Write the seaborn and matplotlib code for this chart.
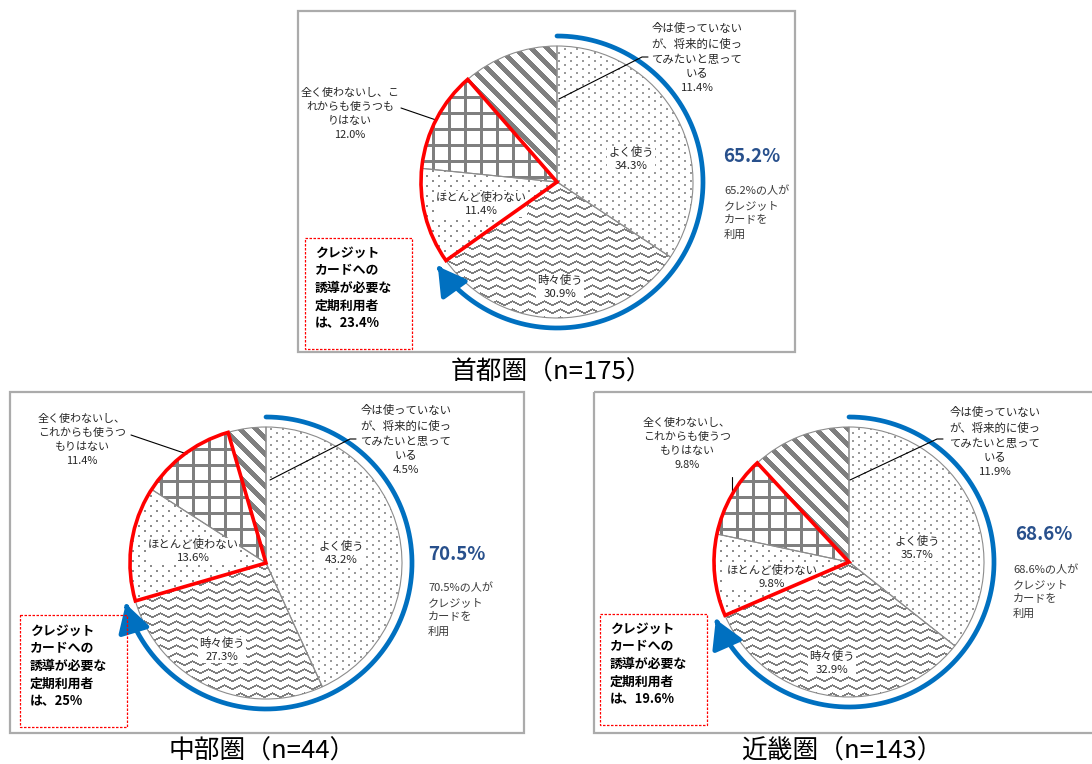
import numpy as np
import matplotlib
matplotlib.use("Agg")
import matplotlib.pyplot as plt
from matplotlib.patches import Wedge, Rectangle, FancyArrowPatch
from matplotlib.path import Path
from matplotlib.colors import to_rgba
import seaborn as sns

# ---- data -------------------------------------------------------------
regions = ["首都圏", "中部圏", "近畿圏"]
sample_sizes = [175, 44, 143]
answer_categories = [
    "よく使う",
    "時々使う",
    "ほとんど使わない",
    "全く使わないし、これからも使うつもりはない",
    "今は使っていないが、将来的に使ってみたいと思っている",
]
shuto_pct = [34.3, 30.9, 11.4, 12.0, 11.4]
chubu_pct = [43.2, 27.3, 13.6, 11.4, 4.5]
kinki_pct = [35.7, 32.9, 9.8, 9.8, 11.9]
region_values = [shuto_pct, chubu_pct, kinki_pct]

# characters per line used when wrapping the two outside labels
never_breaks = [[9, 8], [8, 8], [8, 8]]
future_breaks = [8, 8, 8]
usage_note = ["{}の人が", "クレジット", "カードを", "利用"]
target_note = ["クレジット", "カードへの", "誘導が必要な", "定期利用者", "は、{}"]

# ---- style ------------------------------------------------------------
sns.set_theme(style="white")
plt.rcParams["font.family"] = ["Noto Sans CJK JP", "DejaVu Sans"]

W, H = 1092, 764
BLUE = "#0070C0"
NAVY = "#28508C"
RED = "#FF0000"
TEXT = "#262626"
PATTERN = "#7F7F7F"
LABEL_FS = 8.2

fig = plt.figure(figsize=(W / 100, H / 100), dpi=100)
ax = fig.add_axes([0, 0, 1, 1])

# per-panel geometry (pixel units, y downwards), offsets relative to pie centre
layouts = [
    dict(box=(298, 11, 795, 352), center=(557, 182), r=136,
         inner=[(74, -23), (3, 105), (-76, 22)],
         never_pos=(-207, -68), never_leader=[(-156, -74), (-121, -62)],
         future_pos=(140, -124), future_leader=[(91, -125), (85, -125), (2, -83)],
         pct_pos=(166, -25), note_pos=(167, 31),
         target_box=(-252, 56, -145, 167), target_pos=(-242, 106),
         caption=(551, 373)),
    dict(box=(10, 392, 524, 733), center=(266, 563), r=136,
         inner=[(75, -10), (-44, 87), (-73, -12)],
         never_pos=(-184, -123), never_leader=[(-135, -128), (-79, -109)],
         future_pos=(140, -123), future_leader=[(90, -124), (84, -124), (4, -83)],
         pct_pos=(162, -9), note_pos=(162, 47),
         target_box=(-246, 52, -139, 164), target_pos=(-236, 103),
         caption=(262, 752)),
    dict(box=(594, 392, 1100, 733), center=(849, 562), r=135,
         inner=[(68, -14), (-17, 101), (-77, 15)],
         never_pos=(-162, -118), never_leader=[(-117, -85), (-117, -68)],
         future_pos=(146, -120), future_leader=[(94, -123), (88, -123), (1, -82)],
         pct_pos=(166, -27), note_pos=(164, 30),
         target_box=(-249, 52, -142, 163), target_pos=(-239, 102),
         caption=(842, 752)),
]


def texture(kind, x0, y0, w, h):
    """Pixel fill pattern for one answer category, aligned to the page grid."""
    Y, X = np.mgrid[y0:y0 + h, x0:x0 + w]
    if kind == 0:      # sparse dots
        m = ((Y % 8 < 2) & (X % 12 < 2)) | (((Y + 4) % 8 < 2) & ((X + 6) % 12 < 2))
        col = "#9A9A9A"
    elif kind == 1:    # zigzag
        tri = np.abs((X % 16) - 8) // 2
        m = ((Y + tri) % 8) < 2
        col = PATTERN
    elif kind == 2:    # confetti
        m = ((Y % 10 < 2) & (X % 12 < 2)) | (((Y + 5) % 10 < 2) & ((X + 6) % 12 < 2))
        col = "#8C8C8C"
    elif kind == 3:    # grid
        m = ((X % 16) < 3) | ((Y % 16) < 3)
        col = PATTERN
    else:              # wide diagonal stripes
        m = ((X - Y) % 16) < 7
        col = PATTERN
    img = np.ones((h, w, 4))
    img[m] = to_rgba(col)
    return img


def split_lines(text, breaks):
    out, i = [], 0
    for b in breaks:
        out.append(text[i:i + b])
        i += b
    out.append(text[i:])
    return out


for values, region, n, lay, nb, fb in zip(region_values, regions, sample_sizes,
                                          layouts, never_breaks, future_breaks):
    cx, cy = lay["center"]
    r = lay["r"]
    bx0, by0, bx1, by1 = lay["box"]
    ax.add_patch(Rectangle((bx0, by0), bx1 - bx0, by1 - by0, fill=False,
                           ec="#ABABAB", lw=1.6, zorder=0.5))

    # y axis points down, so counterclock=True from -90 runs clockwise from 12 o'clock
    wedges, _ = ax.pie(values, startangle=-90, counterclock=True, center=(cx, cy),
                       radius=r, normalize=True,
                       wedgeprops=dict(facecolor="none", edgecolor="#8C8C8C", linewidth=0.8))
    x0, y0 = int(cx - r - 3), int(cy - r - 3)
    size = int(2 * r + 6)
    for k, wdg in enumerate(wedges):
        wdg.set_zorder(2)
        im = ax.imshow(texture(k, x0, y0, size, size), extent=(x0, x0 + size, y0 + size, y0),
                       origin="upper", interpolation="nearest", zorder=1)
        im.set_clip_path(wdg)

    # outline around the two "not using" slices
    ax.add_patch(Wedge((cx, cy), r, wedges[2].theta1, wedges[3].theta2, fill=False,
                       ec=RED, lw=2.6, zorder=5, joinstyle="miter"))

    # arrow arc over the two "using" slices
    R = r + 10
    th = np.radians(np.linspace(wedges[0].theta1, wedges[1].theta2, 240))
    arc = Path(np.column_stack([cx + R * np.cos(th), cy + R * np.sin(th)]))
    ax.add_patch(FancyArrowPatch(path=arc, arrowstyle="-|>,head_length=1.3,head_width=0.75",
                                 mutation_scale=13, color=BLUE, lw=3.4, zorder=3))

    # inner labels
    for k in range(3):
        dx, dy = lay["inner"][k]
        ax.text(cx + dx, cy + dy, f"{answer_categories[k]}\n{values[k]:.1f}%",
                ha="center", va="center", fontsize=LABEL_FS, color=TEXT, linespacing=1.45,
                zorder=4, bbox=dict(fc="white", ec="none", pad=0.6))

    # outside labels with leader lines
    never_txt = "\n".join(split_lines(answer_categories[3], nb) + [f"{values[3]:.1f}%"])
    ax.text(cx + lay["never_pos"][0], cy + lay["never_pos"][1], never_txt, ha="center",
            va="center", fontsize=LABEL_FS - 0.3, color=TEXT, linespacing=1.5, zorder=4)
    lx, ly = zip(*lay["never_leader"])
    ax.plot(cx + np.array(lx), cy + np.array(ly), color="black", lw=0.8, zorder=4)

    future_lines = split_lines(answer_categories[4], [fb] * 3)
    future_txt = "\n".join(future_lines + [f"{values[4]:.1f}%"])
    ax.text(cx + lay["future_pos"][0], cy + lay["future_pos"][1], future_txt, ha="center",
            va="center", fontsize=LABEL_FS, color=TEXT, linespacing=1.5, zorder=4)
    lx, ly = zip(*lay["future_leader"])
    ax.plot(cx + np.array(lx), cy + np.array(ly), color="black", lw=0.8, zorder=4)

    # share of card users
    usage = round(values[0] + values[1], 1)
    ax.text(cx + lay["pct_pos"][0], cy + lay["pct_pos"][1], f"{usage:.1f}%", ha="left",
            va="center", fontsize=13.5, fontweight="bold", color=NAVY, zorder=4)
    note = "\n".join(usage_note).format(f"{usage:.1f}%")
    ax.text(cx + lay["note_pos"][0], cy + lay["note_pos"][1], note, ha="left", va="center",
            fontsize=8, color="#3A3A3A", linespacing=1.55, zorder=4)

    # share needing guidance toward cards
    target = round(values[2] + values[3], 1)
    tx0, ty0, tx1, ty1 = lay["target_box"]
    ax.add_patch(Rectangle((cx + tx0, cy + ty0), tx1 - tx0, ty1 - ty0, fill=False, ec=RED,
                           lw=0.9, ls=(0, (2, 1.2)), zorder=4))
    tnote = "\n".join(target_note).format(f"{target:g}%")
    ax.text(cx + lay["target_pos"][0], cy + lay["target_pos"][1], tnote, ha="left",
            va="center", fontsize=9.3, fontweight="bold", color="black", linespacing=1.32,
            zorder=4)

    # panel caption
    ax.text(lay["caption"][0], lay["caption"][1], f"{region}（n={n}）", ha="center",
            va="center", fontsize=18.5, color="black", zorder=4)

ax.set_xlim(0, W)
ax.set_ylim(H, 0)
ax.set_aspect("auto")
ax.set_axis_off()
fig.savefig("out.png", dpi=100, facecolor="white")
